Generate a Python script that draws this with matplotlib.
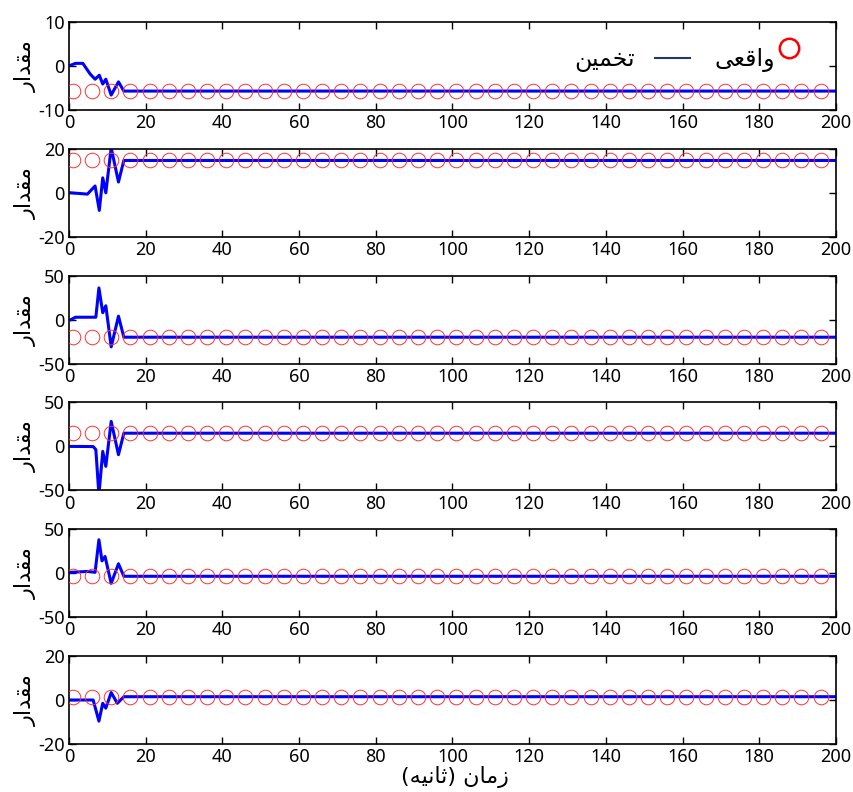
import matplotlib
matplotlib.use("Agg")
import matplotlib.pyplot as plt

plt.rcParams['font.family'] = ['Noto Sans', 'DejaVu Sans']
plt.rcParams['axes.unicode_minus'] = False

# ---- data ----
x_ticks = [0, 20, 40, 60, 80, 100, 120, 140, 160, 180, 200]
y_limits = [(-10, 10), (-20, 20), (-50, 50), (-50, 50), (-50, 50), (-20, 20)]
y_ticks = [[-10, 0, 10], [-20, 0, 20], [-50, 0, 50], [-50, 0, 50], [-50, 0, 50], [-20, 0, 20]]

true_times = list(range(1, 200, 5))
true_values = [-5.7, 14.7, -20.0, 15.0, -3.5, 1.5]

t1 = [0.5, 1.7, 3.6, 5.5, 6.8, 7.9, 8.8, 9.6, 11.0, 12.9, 14.3, 200]
v1 = [0.2, 0.6, 0.6, -1.8, -3.0, -2.1, -4.1, -3.0, -6.6, -3.6, -5.7, -5.7]
t2 = [0.5, 4.8, 6.8, 7.9, 8.8, 9.6, 11.0, 12.9, 14.3, 200]
v2 = [0.0, -0.6, 3.1, -8.0, 6.8, 0.0, 20.5, 4.9, 14.7, 14.7]
t3 = [0.5, 1.7, 7.0, 7.8, 8.8, 9.6, 11.0, 12.9, 14.3, 200]
v3 = [0.0, 2.7, 2.7, 36.0, 7.8, 15.7, -31.0, 3.9, -20.0, -20.0]
t4 = [0.5, 6.3, 7.0, 7.8, 8.8, 9.6, 11.0, 12.9, 14.3, 200]
v4 = [0.0, -0.2, -3.7, -55.0, -5.7, -22.7, 28.4, -9.4, 15.0, 15.0]
t5 = [0.5, 4.8, 6.8, 7.8, 8.6, 9.4, 11.0, 12.9, 14.3, 200]
v5 = [1.0, 2.0, 1.0, 38.0, 14.0, 19.0, -11.5, 10.7, -3.5, -3.5]
t6 = [0.5, 6.3, 7.8, 8.8, 9.6, 11.0, 12.6, 14.3, 200]
v6 = [0.0, 0.0, -9.6, -1.5, -3.7, 3.4, -1.5, 1.5, 1.5]

est_times = [t1, t2, t3, t4, t5, t6]
est_values = [v1, v2, v3, v4, v5, v6]

# pre-shaped Persian text (visual order, presentation forms)
ylabel_txt = "\uFEAD\uFE8D\uFEAA\uFED8\uFEE3"             # مقدار
real_txt = "\uFEF0\uFECC\uFED7\uFE8D\uFEED"               # واقعی
est_txt = "\uFEE6\uFEF4\uFEE4\uFEA8\uFE97"                # تخمین
xlabel_txt = "(\uFEEA\uFEF4\uFEE7\uFE8E\uFE9B) \uFEE5\uFE8E\uFEE3\uFEAF"  # زمان (ثانیه)

W, H = 854, 792
fig = plt.figure(figsize=(W / 100, H / 100), dpi=100)

left_px, right_px = 69, 836
top0, step, h_px = 22, 126.8, 88

axes = []
for i in range(6):
    top = top0 + i * step
    ax = fig.add_axes([left_px / W, 1 - (top + h_px) / H, (right_px - left_px) / W, h_px / H])
    ax.plot(est_times[i], est_values[i], color='#0000ff', lw=2.2, zorder=2)
    ax.plot(true_times, [true_values[i]] * len(true_times), linestyle='none',
            marker='o', markersize=10.5, markerfacecolor='none',
            markeredgecolor='#ff3030', markeredgewidth=0.7, zorder=3)
    ax.set_xlim(0, 200)
    ax.set_ylim(*y_limits[i])
    ax.set_xticks(x_ticks)
    ax.set_yticks(y_ticks[i])
    ax.tick_params(direction='in', top=True, right=True, length=5, width=1,
                   labelsize=13, pad=3)
    for s in ax.spines.values():
        s.set_linewidth(1.2)
    ax.set_ylabel(ylabel_txt, fontsize=16, labelpad=1, family=['DejaVu Sans'])
    axes.append(ax)

# legend (right-to-left layout, as in the reference)
ax0 = axes[0]
ax0.text(0.738, 0.565, est_txt, transform=ax0.transAxes, ha='right', va='center',
         fontsize=17, family=['DejaVu Sans'])
ax0.plot([0.764, 0.810], [0.59, 0.59], transform=ax0.transAxes, color='#203864',
         lw=1.5, clip_on=False)
ax0.text(0.9205, 0.565, real_txt, transform=ax0.transAxes, ha='right', va='center',
         fontsize=17, family=['DejaVu Sans'])
ax0.plot([0.939], [0.705], transform=ax0.transAxes, linestyle='none', marker='o',
         markersize=14, markerfacecolor='none', markeredgecolor='#ff0000',
         markeredgewidth=1.8, clip_on=False)

fig.text(455 / W, 1 - 777 / H, xlabel_txt, ha='center', va='center', fontsize=16,
         family=['DejaVu Sans'])

fig.savefig("out.png", dpi=100)
